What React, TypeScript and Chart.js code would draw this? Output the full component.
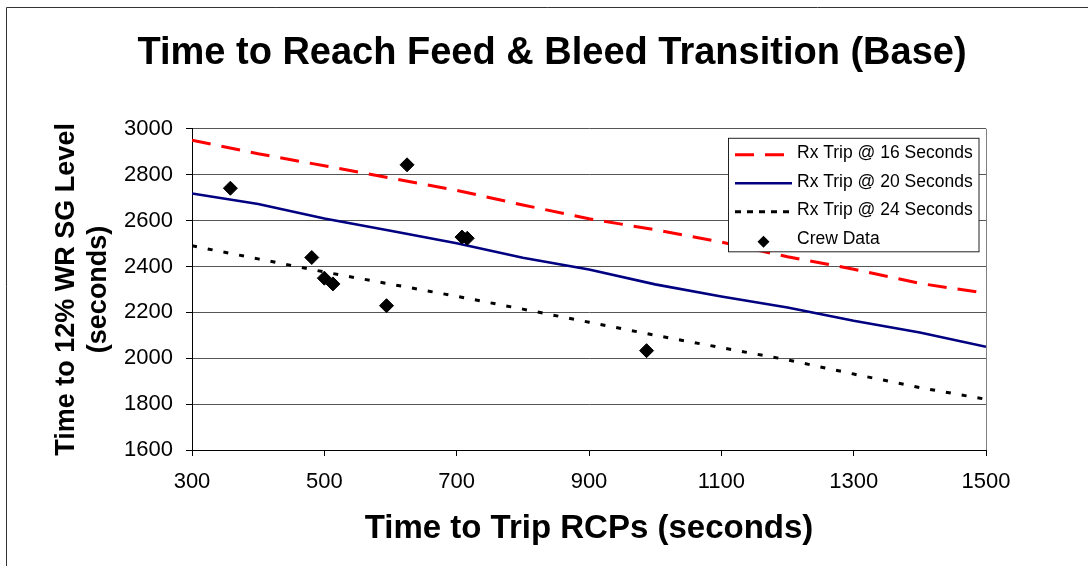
import React, { useEffect, useRef } from "react";
import { Chart, registerables } from "chart.js";

Chart.register(...registerables);

// ---- Data ----
const curveX = [300, 400, 500, 600, 700, 800, 900, 1000, 1100, 1200, 1300, 1400, 1500];
const rxTrip16 = [2950, 2891, 2839, 2785, 2732, 2668, 2608, 2560, 2506, 2442, 2388, 2326, 2283];
const rxTrip20 = [2718, 2672, 2609, 2556, 2501, 2438, 2387, 2322, 2269, 2221, 2163, 2112, 2050];
const rxTrip24 = [2490, 2433, 2376, 2323, 2270, 2214, 2157, 2100, 2046, 1993, 1931, 1872, 1821];
const crewX = [358, 625, 481, 500, 513, 594, 708, 716, 987];
const crewY = [2741, 2843, 2439, 2349, 2324, 2229, 2528, 2523, 2033];
const seriesLabels = [
  "Rx Trip @ 16 Seconds",
  "Rx Trip @ 20 Seconds",
  "Rx Trip @ 24 Seconds",
  "Crew Data",
];
const xMin = 300;
const xMax = 1500;
const xStep = 200;
const yMin = 1600;
const yMax = 3000;
const yStep = 200;
const chartTitle = "Time to Reach Feed & Bleed Transition (Base)";
const xTitle = "Time to Trip RCPs (seconds)";
const yTitle = ["Time to 12% WR SG Level", "(seconds)"];

const FONT = "'Liberation Sans', Arial, Helvetica, sans-serif";

const toPoints = (xs: number[], ys: number[]) => xs.map((x, i) => ({ x, y: ys[i] }));

const framePlugin = {
  id: "frame",
  beforeDraw(chart: any) {
    const ctx = chart.ctx;
    ctx.save();
    ctx.fillStyle = "#ffffff";
    ctx.fillRect(0, 0, chart.width, chart.height);
    ctx.strokeStyle = "#333333";
    ctx.lineWidth = 1;
    ctx.beginPath();
    ctx.moveTo(6.5, chart.height);
    ctx.lineTo(6.5, 7.5);
    ctx.lineTo(chart.width, 7.5);
    ctx.stroke();
    ctx.restore();
  },
};

const boxLegendPlugin = {
  id: "boxLegend",
  afterDraw(chart: any) {
    const ctx = chart.ctx;
    const area = chart.chartArea;
    const left = area.right - 257.5;
    const top = area.top + 9.5;
    const w = 250.5;
    const h = 113.5;
    ctx.save();
    ctx.fillStyle = "#ffffff";
    ctx.fillRect(left, top, w, h);
    ctx.strokeStyle = "#222222";
    ctx.lineWidth = 1;
    ctx.setLineDash([]);
    ctx.strokeRect(left, top, w, h);
    chart.data.datasets.forEach((ds: any, i: number) => {
      const rowY = top + 15 + i * 28.5;
      const sampleY = rowY + 1.5;
      if (ds.showLine) {
        ctx.save();
        ctx.beginPath();
        ctx.setLineDash(ds.legendDash || ds.borderDash || []);
        ctx.lineWidth = ds.borderWidth;
        ctx.strokeStyle = ds.borderColor;
        ctx.moveTo(left + 6.5, sampleY);
        ctx.lineTo(left + 63.5, sampleY);
        ctx.stroke();
        ctx.restore();
      } else {
        const cx = left + 35;
        const cy = rowY + 3;
        const r = 6;
        ctx.beginPath();
        ctx.moveTo(cx - r, cy);
        ctx.lineTo(cx, cy - r);
        ctx.lineTo(cx + r, cy);
        ctx.lineTo(cx, cy + r);
        ctx.closePath();
        ctx.fillStyle = "#000000";
        ctx.fill();
      }
      ctx.fillStyle = "#000000";
      ctx.font = `17.5px ${FONT}`;
      ctx.textAlign = "left";
      ctx.textBaseline = "middle";
      ctx.fillText(ds.label, left + 68.5, rowY);
    });
    ctx.restore();
  },
};

export default function App() {
  const canvasRef = useRef<HTMLCanvasElement | null>(null);

  useEffect(() => {
    document.body.style.margin = "0";
    const canvas = canvasRef.current;
    if (!canvas) return;

    const chart = new Chart(canvas, {
      type: "scatter",
      data: {
        datasets: [
          {
            label: seriesLabels[0],
            data: toPoints(curveX, rxTrip16),
            showLine: true,
            borderColor: "#ff0000",
            backgroundColor: "#ff0000",
            borderWidth: 3,
            borderDash: [19, 11],
            pointRadius: 0,
            pointHoverRadius: 0,
            tension: 0,
            order: 1,
          } as any,
          {
            label: seriesLabels[1],
            data: toPoints(curveX, rxTrip20),
            showLine: true,
            borderColor: "#000080",
            backgroundColor: "#000080",
            borderWidth: 2.6,
            pointRadius: 0,
            pointHoverRadius: 0,
            tension: 0,
            order: 1,
          } as any,
          {
            label: seriesLabels[2],
            data: toPoints(curveX, rxTrip24),
            showLine: true,
            borderColor: "#000000",
            backgroundColor: "#000000",
            borderWidth: 3,
            borderDash: [5, 11],
            legendDash: [6, 6],
            pointRadius: 0,
            pointHoverRadius: 0,
            tension: 0,
            order: 1,
          } as any,
          {
            label: seriesLabels[3],
            data: toPoints(crewX, crewY),
            showLine: false,
            pointStyle: "rectRot",
            pointRadius: 7,
            pointHoverRadius: 7,
            backgroundColor: "#000000",
            borderColor: "#000000",
            borderWidth: 1,
            order: 0,
          } as any,
        ],
      },
      options: {
        responsive: false,
        animation: false,
        events: [],
        layout: { padding: { left: 16, right: 0, top: 0, bottom: 0 } },
        plugins: {
          legend: { display: false },
          tooltip: { enabled: false },
          title: {
            display: true,
            text: chartTitle,
            color: "#000000",
            font: { family: FONT, size: 38, weight: "bold", lineHeight: 1.2 },
            padding: { top: 31.1, bottom: 52.1 },
          },
        },
        scales: {
          x: {
            type: "linear",
            position: "bottom",
            min: xMin,
            max: xMax,
            afterFit: (s: any) => {
              s.height = 116;
            },
            ticks: {
              stepSize: xStep,
              color: "#000000",
              padding: 12.5,
              font: { family: FONT, size: 22 },
              maxRotation: 0,
              callback: (v: any) => String(v),
            },
            grid: {
              drawOnChartArea: true,
              color: (c: any) => (c.tick && c.tick.value === xMax ? "#808080" : "rgba(0,0,0,0)"),
              tickColor: "#000000",
              tickLength: 6,
              lineWidth: 1,
            },
            border: { display: true, color: "#000000", width: 1 },
            title: {
              display: true,
              text: xTitle,
              color: "#000000",
              font: { family: FONT, size: 33, weight: "bold", lineHeight: 1.2 },
              padding: { top: 0, bottom: 17.2 },
            },
          },
          y: {
            type: "linear",
            position: "left",
            min: yMin,
            max: yMax,
            afterFit: (s: any) => {
              s.width = 176;
            },
            ticks: {
              stepSize: yStep,
              color: "#000000",
              padding: 13,
              font: { family: FONT, size: 22 },
              callback: (v: any) => String(v),
            },
            grid: {
              color: "#555555",
              tickColor: "#000000",
              tickLength: 6,
              lineWidth: 1,
            },
            border: { display: true, color: "#000000", width: 1 },
            title: {
              display: true,
              text: yTitle,
              color: "#000000",
              font: { family: FONT, size: 27, weight: "bold", lineHeight: 1.15 },
              padding: { top: 35.5, bottom: 0 },
            },
          },
          yRight: {
            type: "linear",
            position: "right",
            display: true,
            afterFit: (s: any) => {
              s.width = 102;
            },
            ticks: { display: false },
            grid: { display: false, drawOnChartArea: false, drawTicks: false },
            border: { display: false },
          },
        },
      } as any,
      plugins: [framePlugin, boxLegendPlugin],
    });

    return () => {
      chart.destroy();
    };
  }, []);

  return (
    <div style={{ width: 1088, height: 566 }}>
      <canvas ref={canvasRef} width={1088} height={566} style={{ display: "block" }} />
    </div>
  );
}
